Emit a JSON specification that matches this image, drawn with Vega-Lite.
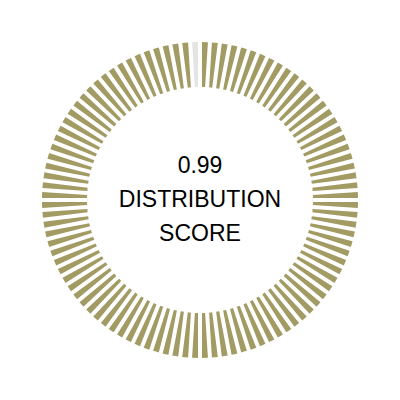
{
  "$schema": "https://vega.github.io/schema/vega-lite/v6.json",
  "width": 400,
  "height": 400,
  "autosize": {"type": "fit", "contains": "padding"},
  "padding": 0,
  "background": "white",
  "view": {"stroke": null},
  "datasets": {
    "segments": [
      {"i":1,"v":1,"s":"on"},{"i":2,"v":1,"s":"on"},{"i":3,"v":1,"s":"on"},{"i":4,"v":1,"s":"on"},{"i":5,"v":1,"s":"on"},
      {"i":6,"v":1,"s":"on"},{"i":7,"v":1,"s":"on"},{"i":8,"v":1,"s":"on"},{"i":9,"v":1,"s":"on"},{"i":10,"v":1,"s":"on"},
      {"i":11,"v":1,"s":"on"},{"i":12,"v":1,"s":"on"},{"i":13,"v":1,"s":"on"},{"i":14,"v":1,"s":"on"},{"i":15,"v":1,"s":"on"},
      {"i":16,"v":1,"s":"on"},{"i":17,"v":1,"s":"on"},{"i":18,"v":1,"s":"on"},{"i":19,"v":1,"s":"on"},{"i":20,"v":1,"s":"on"},
      {"i":21,"v":1,"s":"on"},{"i":22,"v":1,"s":"on"},{"i":23,"v":1,"s":"on"},{"i":24,"v":1,"s":"on"},{"i":25,"v":1,"s":"on"},
      {"i":26,"v":1,"s":"on"},{"i":27,"v":1,"s":"on"},{"i":28,"v":1,"s":"on"},{"i":29,"v":1,"s":"on"},{"i":30,"v":1,"s":"on"},
      {"i":31,"v":1,"s":"on"},{"i":32,"v":1,"s":"on"},{"i":33,"v":1,"s":"on"},{"i":34,"v":1,"s":"on"},{"i":35,"v":1,"s":"on"},
      {"i":36,"v":1,"s":"on"},{"i":37,"v":1,"s":"on"},{"i":38,"v":1,"s":"on"},{"i":39,"v":1,"s":"on"},{"i":40,"v":1,"s":"on"},
      {"i":41,"v":1,"s":"on"},{"i":42,"v":1,"s":"on"},{"i":43,"v":1,"s":"on"},{"i":44,"v":1,"s":"on"},{"i":45,"v":1,"s":"on"},
      {"i":46,"v":1,"s":"on"},{"i":47,"v":1,"s":"on"},{"i":48,"v":1,"s":"on"},{"i":49,"v":1,"s":"on"},{"i":50,"v":1,"s":"on"},
      {"i":51,"v":1,"s":"on"},{"i":52,"v":1,"s":"on"},{"i":53,"v":1,"s":"on"},{"i":54,"v":1,"s":"on"},{"i":55,"v":1,"s":"on"},
      {"i":56,"v":1,"s":"on"},{"i":57,"v":1,"s":"on"},{"i":58,"v":1,"s":"on"},{"i":59,"v":1,"s":"on"},{"i":60,"v":1,"s":"on"},
      {"i":61,"v":1,"s":"on"},{"i":62,"v":1,"s":"on"},{"i":63,"v":1,"s":"on"},{"i":64,"v":1,"s":"on"},{"i":65,"v":1,"s":"on"},
      {"i":66,"v":1,"s":"on"},{"i":67,"v":1,"s":"on"},{"i":68,"v":1,"s":"on"},{"i":69,"v":1,"s":"on"},{"i":70,"v":1,"s":"on"},
      {"i":71,"v":1,"s":"on"},{"i":72,"v":1,"s":"on"},{"i":73,"v":1,"s":"on"},{"i":74,"v":1,"s":"on"},{"i":75,"v":1,"s":"on"},
      {"i":76,"v":1,"s":"on"},{"i":77,"v":1,"s":"on"},{"i":78,"v":1,"s":"on"},{"i":79,"v":1,"s":"on"},{"i":80,"v":1,"s":"on"},
      {"i":81,"v":1,"s":"on"},{"i":82,"v":1,"s":"on"},{"i":83,"v":1,"s":"on"},{"i":84,"v":1,"s":"on"},{"i":85,"v":1,"s":"on"},
      {"i":86,"v":1,"s":"on"},{"i":87,"v":1,"s":"on"},{"i":88,"v":1,"s":"on"},{"i":89,"v":1,"s":"on"},{"i":90,"v":1,"s":"on"},
      {"i":91,"v":1,"s":"on"},{"i":92,"v":1,"s":"on"},{"i":93,"v":1,"s":"on"},{"i":94,"v":1,"s":"on"},{"i":95,"v":1,"s":"on"},
      {"i":96,"v":1,"s":"on"},{"i":97,"v":1,"s":"on"},{"i":98,"v":1,"s":"on"},{"i":99,"v":1,"s":"on"},{"i":100,"v":1,"s":"off"}
    ],
    "label": [{"t": ["0.99", "DISTRIBUTION", "SCORE"]}]
  },
  "layer": [
    {
      "data": {"name": "segments"},
      "mark": {"type": "arc", "radius": 158, "radius2": 113, "padAngle": 0.0205},
      "encoding": {
        "theta": {"field": "v", "type": "quantitative", "stack": true},
        "order": {"field": "i", "type": "quantitative"},
        "color": {
          "field": "s",
          "type": "nominal",
          "scale": {"domain": ["on", "off"], "range": ["#a29c64", "#e4e4e4"]},
          "legend": null
        }
      }
    },
    {
      "data": {"name": "label"},
      "mark": {
        "type": "text",
        "font": "Liberation Sans",
        "fontSize": 23,
        "lineHeight": 34,
        "dy": -34,
        "align": "center",
        "baseline": "middle",
        "color": "#000000"
      },
      "encoding": {
        "text": {"field": "t"}
      }
    }
  ]
}
